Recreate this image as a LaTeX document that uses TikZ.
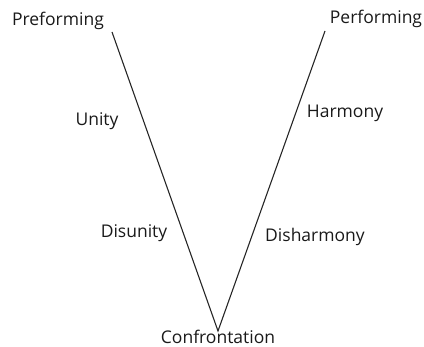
\documentclass[tikz,border=0pt]{standalone}
\usepackage{fontspec}
\setmainfont{Open Sans}
\begin{document}
\begin{tikzpicture}[x=1pt,y=-1pt,
  lbl/.style={font=\fontsize{17.5}{20}\selectfont, inner sep=0pt, text=black!90},
  vline/.style={line width=1.1pt, black!85}]
\useasboundingbox (0,0) rectangle (424,347);
\coordinate (lt) at (112,32);
\coordinate (rt) at (325,31);
\coordinate (bot) at (218,331);
\draw[vline] (lt) -- (bot) -- (rt);
\node[lbl] (pre) at (58,21) {Preforming};
\node[lbl] (per) at (376,19) {Performing};
\node[lbl] (uni) at (97,121) {Unity};
\node[lbl] (har) at (345,113) {Harmony};
\node[lbl] (dis) at (134,233) {Disunity};
\node[lbl] (dish) at (315,237) {Disharmony};
\node[lbl, anchor=base] (con) at (218,344) {Confrontation};
\end{tikzpicture}
\end{document}
